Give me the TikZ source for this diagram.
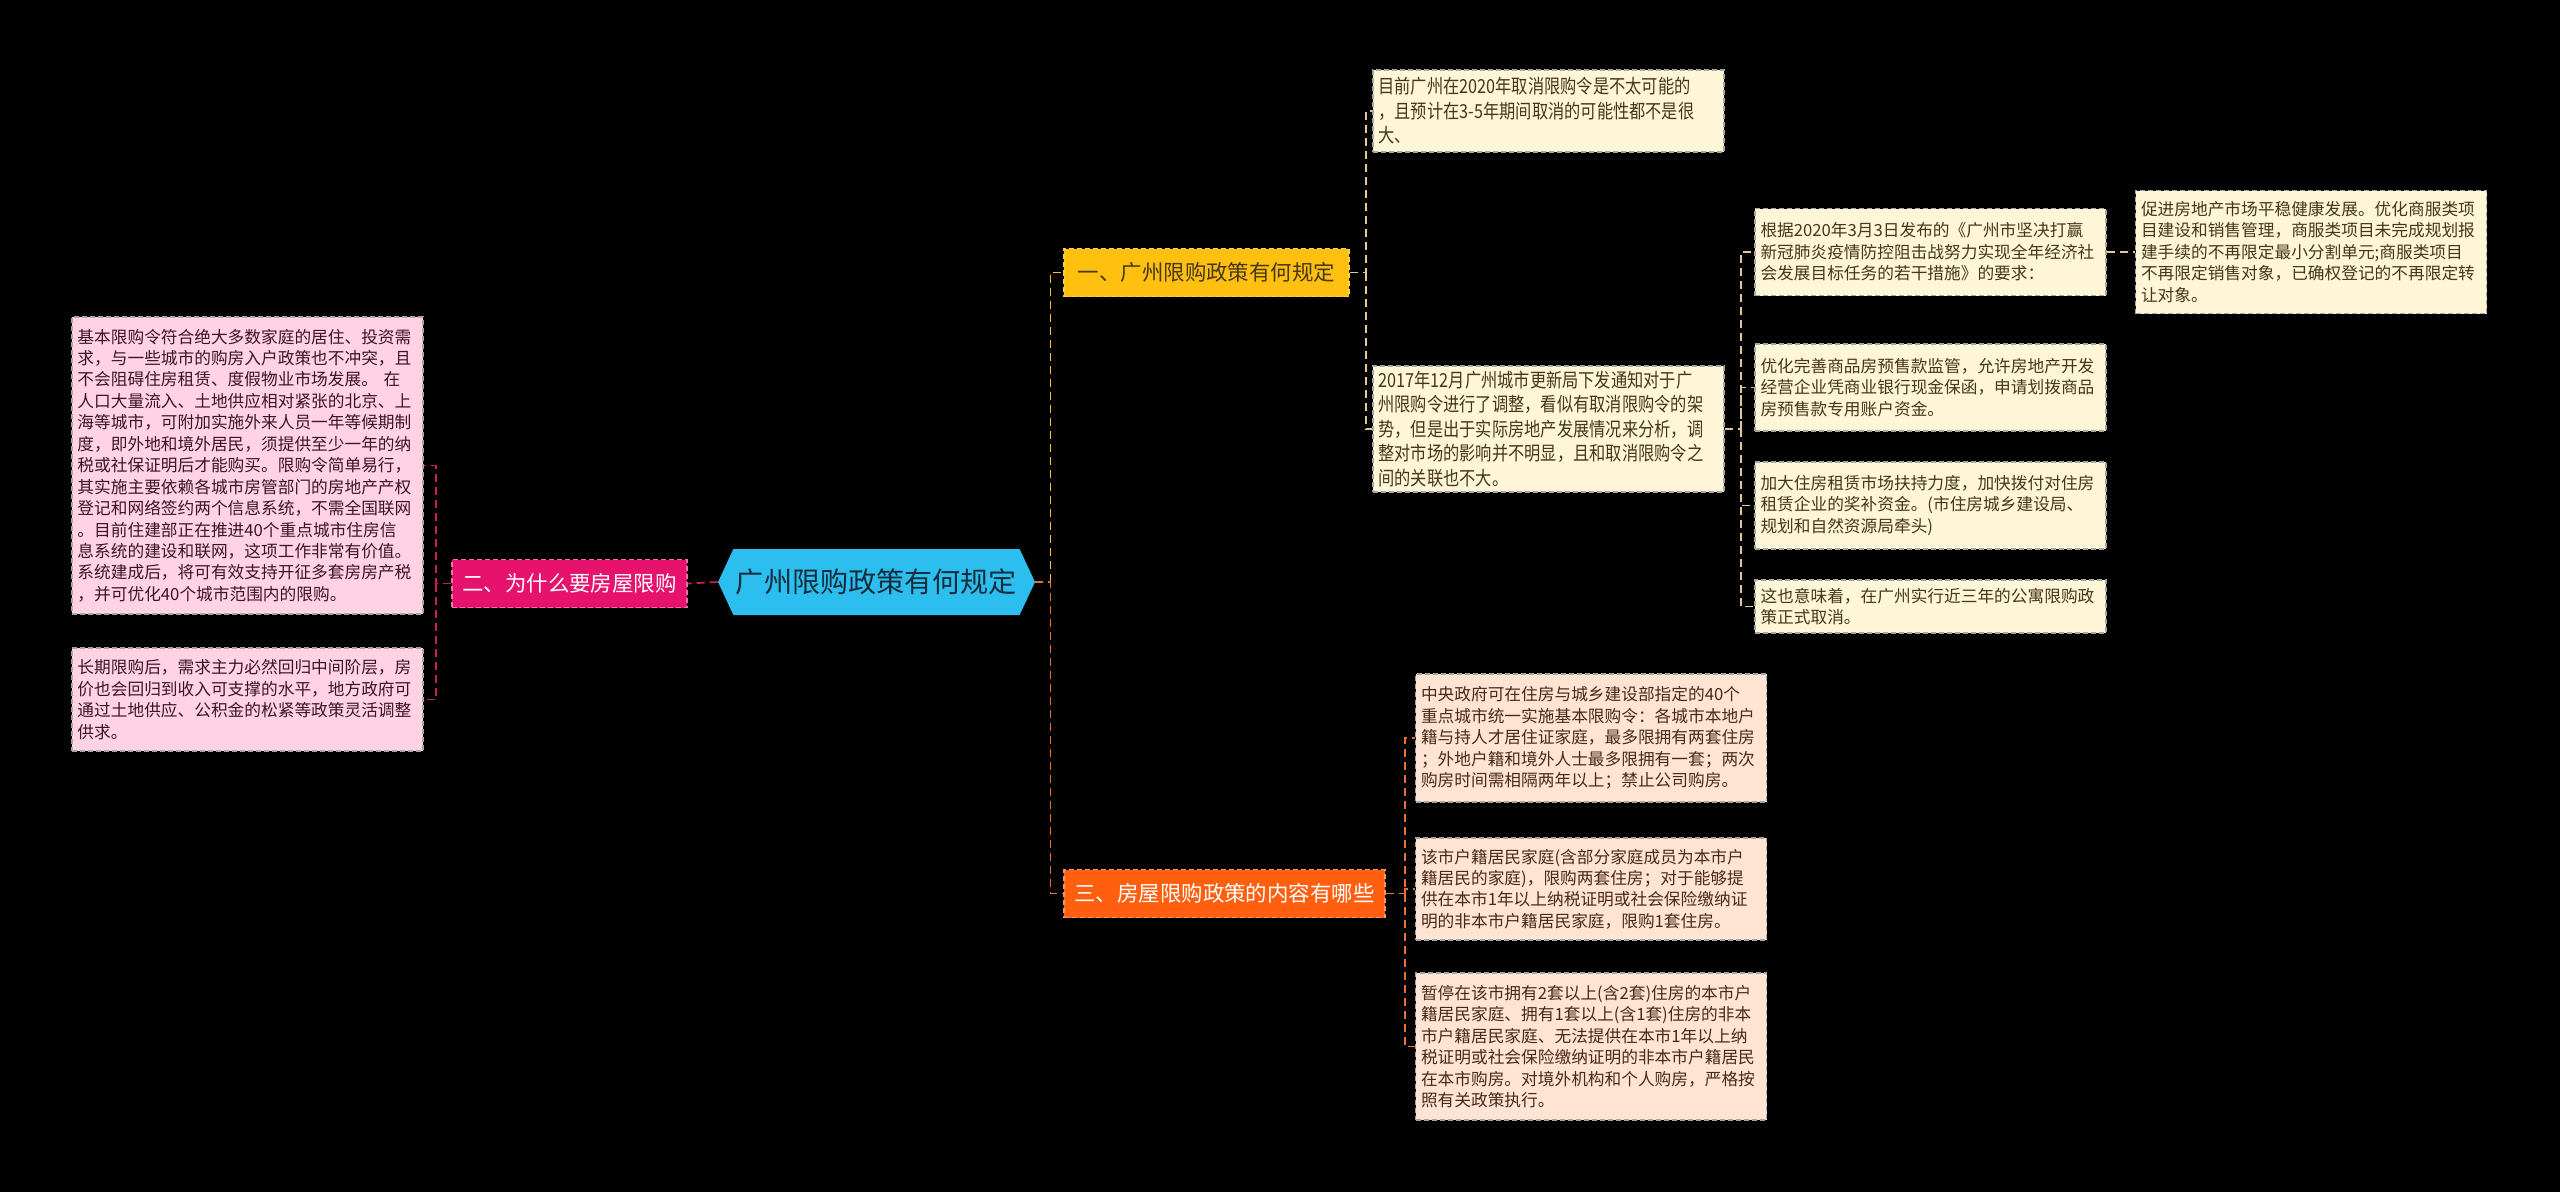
\documentclass[tikz,border=0pt]{standalone}
\usepackage{fontspec}
\setmainfont{Noto Sans CJK SC}
\newfontfamily\narrowcjk[FakeStretch=0.84]{Noto Sans CJK SC}
\usetikzlibrary{shapes.symbols,calc}
\definecolor{cyanroot}{RGB}{43,190,238}
\definecolor{rootink}{RGB}{20,45,60}
\definecolor{magtopic}{RGB}{230,18,110}
\definecolor{magline}{RGB}{200,30,90}
\definecolor{pinkleaf}{RGB}{255,210,228}
\definecolor{pinkink}{RGB}{60,20,40}
\definecolor{goldtopic}{RGB}{255,192,15}
\definecolor{goldline}{RGB}{255,190,40}
\definecolor{tanline}{RGB}{225,200,150}
\definecolor{creamleaf}{RGB}{255,245,215}
\definecolor{creamink}{RGB}{70,55,25}
\definecolor{orangetopic}{RGB}{255,95,15}
\definecolor{orangeline}{RGB}{235,110,50}
\definecolor{peachleaf}{RGB}{255,228,212}
\definecolor{peachink}{RGB}{75,40,25}

\begin{document}
\begin{tikzpicture}[x=0.2mm, y=-0.2mm,
    rootnode/.style={signal, signal to=east and west, signal pointer angle=130, fill=cyanroot, text=rootink, minimum width=63.4mm, minimum height=13.2mm, inner sep=0pt, font=\fontsize{16}{18}\selectfont},
    topic/.style={rectangle, line width=0.3mm, dash pattern=on 1mm off 0.6mm, minimum height=9.6mm, inner sep=0pt, font=\fontsize{12.2}{14}\selectfont},
    leaf/.style={rectangle, draw=gray!70, line width=0.25mm, dash pattern=on 1mm off 0.6mm, text width=68mm, align=left, inner xsep=1.1mm, inner ysep=1mm, font=\fontsize{9.5}{12.2}\selectfont},
    pinkbox/.style={leaf, fill=pinkleaf, text=pinkink},
    creambox/.style={leaf, fill=creamleaf, text=creamink},
    peachbox/.style={leaf, fill=peachleaf, text=peachink},
    link/.style={line width=0.35mm, dash pattern=on 1.6mm off 1mm}]

    % background
    \fill[black] (0,0) rectangle (2560,1192);
    \useasboundingbox (0,0) rectangle (2560,1192);

    % Root
    \node[rootnode] (root) at (876.5,582) {广州限购政策有何规定};

    % Main topics
    \node[topic, fill=magtopic, draw=magtopic!60!white, text=white, minimum width=47mm] (why) at (569.5,583.5) {二、为什么要房屋限购};
    \node[topic, fill=goldtopic, draw=goldtopic!75!white, text=creamink, minimum width=57mm] (rule) at (1206.5,272.5) {一、广州限购政策有何规定};
    \node[topic, fill=orangetopic, draw=orangetopic!65!white, text=white, minimum width=64.2mm] (what) at (1224.5,893.5) {三、房屋限购政策的内容有哪些};

    % Left leaves
    \node[pinkbox, minimum height=59.4mm] (whyA) at (247.5,465.5) {基本限购令符合绝大多数家庭的居住、投资需\\求，与一些城市的购房入户政策也不冲突，且\\不会阻碍住房租赁、度假物业市场发展。 在\\人口大量流入、土地供应相对紧张的北京、上\\海等城市，可附加实施外来人员一年等候期制\\度，即外地和境外居民，须提供至少一年的纳\\税或社保证明后才能购买。限购令简单易行，\\其实施主要依赖各城市房管部门的房地产产权\\登记和网络签约两个信息系统，不需全国联网\\。目前住建部正在推进40个重点城市住房信\\息系统的建设和联网，这项工作非常有价值。\\系统建成后，将可有效支持开征多套房房产税\\，并可优化40个城市范围内的限购。};
    \node[pinkbox, minimum height=20.6mm] (whyB) at (247.5,699.5) {长期限购后，需求主力必然回归中间阶层，房\\价也会回归到收入可支撑的水平，地方政府可\\通过土地供应、公积金的松紧等政策灵活调整\\供求。};

    % Upper right leaves
    \node[creambox, minimum height=16.4mm, font=\narrowcjk\fontsize{11}{13.9}\selectfont] (ruleA) at (1548.5,111) {目前广州在2020年取消限购令是不太可能的\\，且预计在3-5年期间取消的可能性都不是很\\大、};
    \node[creambox, minimum height=24.8mm, font=\narrowcjk\fontsize{11}{13.9}\selectfont] (ruleB) at (1548.5,429) {2017年12月广州城市更新局下发通知对于广\\州限购令进行了调整，看似有取消限购令的架\\势，但是出于实际房地产发展情况来分析，调\\整对市场的影响并不明显，且和取消限购令之\\间的关联也不大。};

    \node[creambox, minimum height=17.4mm] (stepA) at (1930.5,252) {根据2020年3月3日发布的《广州市坚决打赢\\新冠肺炎疫情防控阻击战努力实现全年经济社\\会发展目标任务的若干措施》的要求：};
    \node[creambox, minimum height=17.4mm] (stepB) at (1930.5,387.5) {优化完善商品房预售款监管，允许房地产开发\\经营企业凭商业银行现金保函，申请划拨商品\\房预售款专用账户资金。};
    \node[creambox, minimum height=17.4mm] (stepC) at (1930.5,505.5) {加大住房租赁市场扶持力度，加快拨付对住房\\租赁企业的奖补资金。(市住房城乡建设局、\\规划和自然资源局牵头)};
    \node[creambox, minimum height=10.6mm] (stepD) at (1930.5,606.5) {这也意味着，在广州实行近三年的公寓限购政\\策正式取消。};
    \node[creambox, minimum height=24.6mm] (stepE) at (2311,252) {促进房地产市场平稳健康发展。优化商服类项\\目建设和销售管理，商服类项目未完成规划报\\建手续的不再限定最小分割单元;商服类项目\\不再限定销售对象，已确权登记的不再限定转\\让对象。};

    % Lower right leaves
    \node[peachbox, minimum height=25.6mm] (whatA) at (1591,738) {中央政府可在住房与城乡建设部指定的40个\\重点城市统一实施基本限购令：各城市本地户\\籍与持人才居住证家庭，最多限拥有两套住房\\；外地户籍和境外人士最多限拥有一套；两次\\购房时间需相隔两年以上；禁止公司购房。};
    \node[peachbox, minimum height=20.4mm] (whatB) at (1591,889) {该市户籍居民家庭(含部分家庭成员为本市户\\籍居民的家庭)，限购两套住房；对于能够提\\供在本市1年以上纳税证明或社会保险缴纳证\\明的非本市户籍居民家庭，限购1套住房。};
    \node[peachbox, minimum height=29.4mm] (whatC) at (1591,1046.5) {暂停在该市拥有2套以上(含2套)住房的本市户\\籍居民家庭、拥有1套以上(含1套)住房的非本\\市户籍居民家庭、无法提供在本市1年以上纳\\税证明或社会保险缴纳证明的非本市户籍居民\\在本市购房。对境外机构和个人购房，严格按\\照有关政策执行。};

    % Junctions
    \coordinate (jWhy) at ($(why.west)+(-15,0)$);
    \coordinate (jRoot) at ($(root.east)+(15,0)$);
    \coordinate (jRule) at ($(rule.east)+(16,0)$);
    \coordinate (jStep) at ($(ruleB.east)+(16,0)$);
    \coordinate (jWhat) at ($(what.east)+(19,0)$);

    % Connectors
    \draw[link, magline] (root.west) -- (why.east);
    \draw[link, magline] (why.west) -- (jWhy) |- (whyA.east);
    \draw[link, magline] (jWhy) |- (whyB.east);

    \draw[link, goldline] (jRoot) |- (rule.west);
    \draw[link, orangeline] (root.east) -- (jRoot) |- (what.west);

    \draw[link, tanline] (rule.east) -- (jRule) |- (ruleA.west);
    \draw[link, tanline] (jRule) |- (ruleB.west);

    \draw[link, tanline] (ruleB.east) -- (jStep) |- (stepA.west);
    \draw[link, tanline] (jStep) |- (stepB.west);
    \draw[link, tanline] (jStep) |- (stepC.west);
    \draw[link, tanline] (jStep) |- (stepD.west);
    \draw[link, tanline] (stepA.east) -- (stepE.west);

    \draw[link, orangeline] (what.east) -- (jWhat) |- (whatA.west);
    \draw[link, orangeline] (jWhat) |- (whatB.west);
    \draw[link, orangeline] (jWhat) |- (whatC.west);

\end{tikzpicture}
\end{document}
